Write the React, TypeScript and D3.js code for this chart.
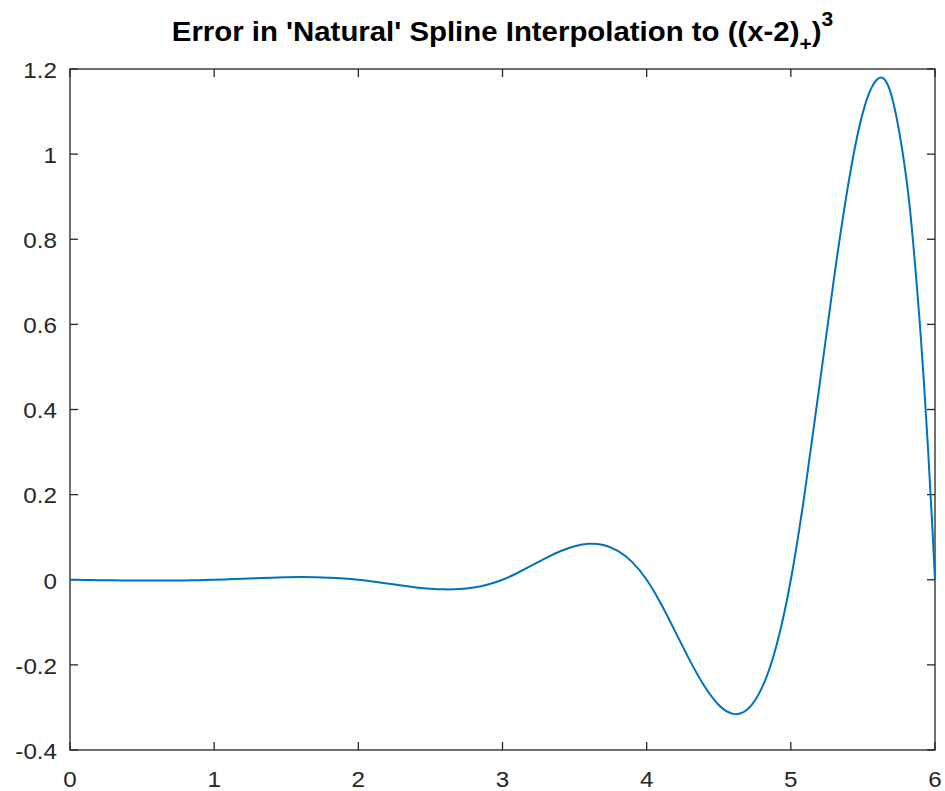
import React, { useRef, useEffect } from "react";
import * as d3 from "d3";

// error of the natural cubic spline (nodes 0..6)
const xs = [
  0, 0.1, 0.2, 0.3, 0.4, 0.5, 0.6, 0.7, 0.8, 0.9,
  1, 1.1, 1.2, 1.3, 1.4, 1.5, 1.6, 1.7, 1.8, 1.9,
  2, 2.1, 2.2, 2.3, 2.4, 2.5, 2.6, 2.7, 2.8, 2.9,
  3, 3.1, 3.2, 3.3, 3.4, 3.5, 3.6, 3.7, 3.8, 3.9,
  4, 4.1, 4.2, 4.3, 4.4, 4.5, 4.6, 4.7, 4.8, 4.9,
  5, 5.1, 5.2, 5.3, 5.4, 5.5, 5.6, 5.7, 5.8, 5.85, 5.9, 5.95, 5.98, 6,
];
const errs = [
  0, -0.0005, -0.001, -0.0014, -0.0017, -0.0019, -0.002, -0.0018, -0.0015, -0.0009,
  0, 0.0012, 0.0025, 0.0038, 0.0049, 0.0058, 0.0062, 0.0059, 0.0049, 0.003,
  0, -0.0041, -0.0089, -0.0137, -0.018, -0.0212, -0.0226, -0.0219, -0.0182, -0.0111,
  0, 0.0153, 0.033, 0.0509, 0.067, 0.0788, 0.0844, 0.0815, 0.0679, 0.0415,
  0, -0.057, -0.1231, -0.1901, -0.2498, -0.2942, -0.3151, -0.3042, -0.2535, -0.1548,
  0, 0.2127, 0.4593, 0.7094, 0.9324, 1.0981, 1.1759, 1.1354, 0.9462, 0.7863, 0.5779, 0.317, 0.1338, 0,
];

const xTicks = [0, 1, 2, 3, 4, 5, 6];
const yTicks = [-0.4, -0.2, 0, 0.2, 0.4, 0.6, 0.8, 1, 1.2];

const W = 945;
const H = 791;
const AXIS = "#262626";

export default function App() {
  const ref = useRef<SVGSVGElement | null>(null);

  useEffect(() => {
    if (!ref.current) return;
    const svg = d3.select(ref.current);
    svg.selectAll("*").remove();

    const left = 70, right = 935, top = 69, bottom = 750;
    const x = d3.scaleLinear().domain([0, 6]).range([left, right]);
    const y = d3.scaleLinear().domain([-0.4, 1.2]).range([bottom, top]);
    const tick = 8;
    const stretch = 1.1; // glyphs in the reference are a bit wide

    const font = "'Liberation Sans', Arial, Helvetica, sans-serif";

    // box
    svg.append("rect")
      .attr("x", left).attr("y", top)
      .attr("width", right - left).attr("height", bottom - top)
      .attr("fill", "white")
      .attr("stroke", AXIS)
      .attr("stroke-width", 1.3);

    // x ticks (bottom and top, inward)
    const gx = svg.append("g");
    xTicks.forEach((t) => {
      const px = x(t);
      gx.append("line").attr("x1", px).attr("x2", px).attr("y1", bottom).attr("y2", bottom - tick)
        .attr("stroke", AXIS).attr("stroke-width", 1.3);
      gx.append("line").attr("x1", px).attr("x2", px).attr("y1", top).attr("y2", top + tick)
        .attr("stroke", AXIS).attr("stroke-width", 1.3);
      gx.append("text")
        .attr("transform", `translate(${px},${bottom + 37}) scale(${stretch},1)`)
        .attr("text-anchor", "middle")
        .attr("font-family", font).attr("font-size", 22)
        .attr("fill", AXIS)
        .text(String(t));
    });

    // y ticks (left and right, inward)
    const gy = svg.append("g");
    yTicks.forEach((t) => {
      const py = y(t);
      gy.append("line").attr("x1", left).attr("x2", left + tick).attr("y1", py).attr("y2", py)
        .attr("stroke", AXIS).attr("stroke-width", 1.3);
      gy.append("line").attr("x1", right).attr("x2", right - tick).attr("y1", py).attr("y2", py)
        .attr("stroke", AXIS).attr("stroke-width", 1.3);
      gy.append("text")
        .attr("transform", `translate(${left - 13},${py + 3}) scale(${stretch},1)`)
        .attr("text-anchor", "end")
        .attr("dominant-baseline", "middle")
        .attr("font-family", font).attr("font-size", 22)
        .attr("fill", AXIS)
        .text(String(+t.toFixed(1)));
    });

    // curve
    const pts = xs.map((v, i) => [v, errs[i]] as [number, number]);
    const line = d3.line<[number, number]>()
      .x((d) => x(d[0]))
      .y((d) => y(d[1]))
      .curve(d3.curveNatural);
    svg.append("path")
      .attr("d", line(pts) || "")
      .attr("fill", "none")
      .attr("stroke", "#0072BD")
      .attr("stroke-width", 2);

    // title with sub/superscript
    const title = svg.append("text")
      .attr("transform", `translate(${(left + right) / 2},41) scale(1.05,1)`)
      .attr("text-anchor", "middle")
      .attr("font-family", font).attr("font-size", 28)
      .attr("font-weight", "bold")
      .attr("fill", "black");
    title.append("tspan").text("Error in 'Natural' Spline Interpolation to ((x-2)");
    title.append("tspan").attr("font-size", 20).attr("dy", 10).text("+");
    title.append("tspan").attr("dy", -10).text(")");
    title.append("tspan").attr("font-size", 20).attr("dy", -15).text("3");
  }, []);

  return (
    <svg
      ref={ref}
      width={W}
      height={H}
      style={{ position: "absolute", left: 0, top: 0, background: "white" }}
    />
  );
}
